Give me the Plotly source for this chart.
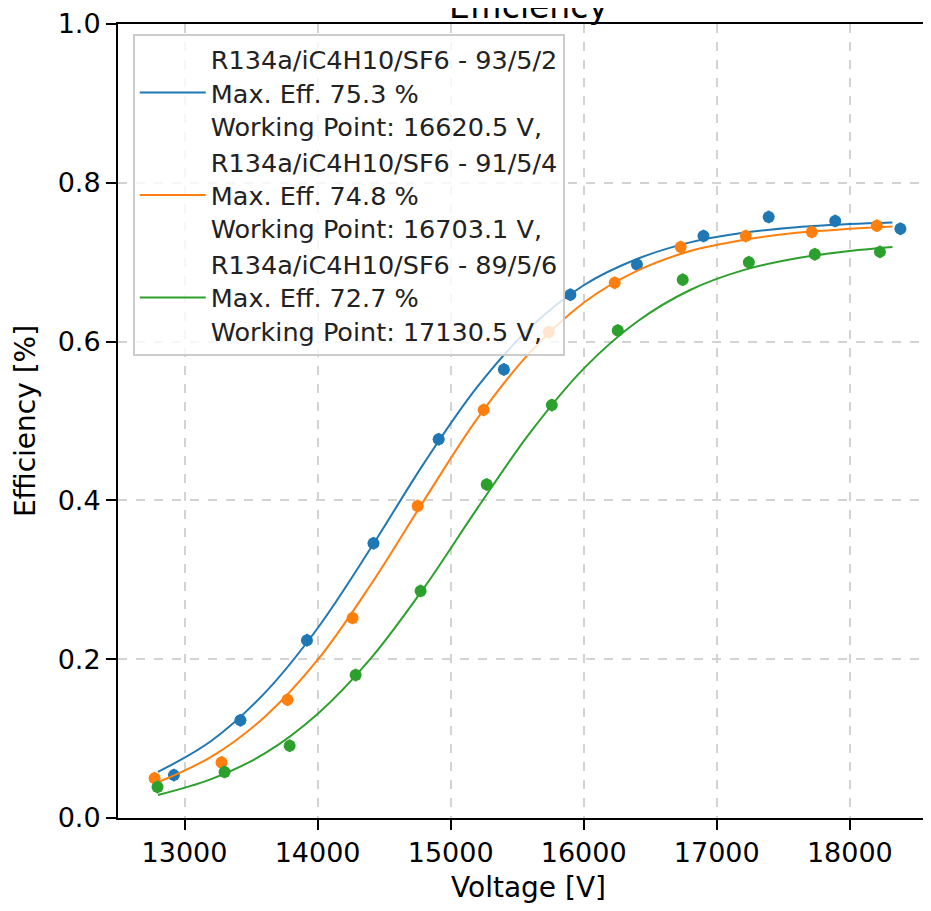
import plotly.graph_objects as go

# measured points (voltage [V], efficiency)
v_932 = [12920, 13420, 13920, 14420, 14910, 15400, 15900, 16400, 16900, 17390, 17890, 18380]
eff_932 = [0.054, 0.123, 0.224, 0.346, 0.477, 0.565, 0.659, 0.697, 0.733, 0.757, 0.752, 0.742]

v_914 = [12775, 13278, 13774, 14263, 14752, 15248, 15737, 16233, 16729, 17218, 17714, 18203]
eff_914 = [0.050, 0.070, 0.149, 0.252, 0.393, 0.514, 0.612, 0.674, 0.719, 0.733, 0.738, 0.746]

v_896 = [12797, 13301, 13790, 14286, 14774, 15271, 15760, 16256, 16744, 17241, 17737, 18226]
eff_896 = [0.039, 0.058, 0.091, 0.180, 0.286, 0.420, 0.520, 0.614, 0.678, 0.700, 0.710, 0.713]

err = [0.008] * 12

# fitted curves
v_fit = [12800, 13200, 13600, 14000, 14400, 14800, 15200, 15600, 16000, 16400, 16800, 17200, 17600, 18000, 18320]
fit_932 = [0.058, 0.097, 0.157, 0.239, 0.340, 0.447, 0.543, 0.618, 0.671, 0.704, 0.725, 0.737, 0.744, 0.748, 0.750]
fit_914 = [0.045, 0.077, 0.127, 0.199, 0.294, 0.400, 0.503, 0.587, 0.649, 0.689, 0.714, 0.728, 0.737, 0.742, 0.745]
fit_896 = [0.029, 0.049, 0.081, 0.131, 0.201, 0.290, 0.390, 0.486, 0.566, 0.625, 0.665, 0.690, 0.705, 0.714, 0.719]

names = [
    "R134a/iC4H10/SF6 - 93/5/2<br>Max. Eff. 75.3 %<br>Working Point: 16620.5 V,",
    "R134a/iC4H10/SF6 - 91/5/4<br>Max. Eff. 74.8 %<br>Working Point: 16703.1 V,",
    "R134a/iC4H10/SF6 - 89/5/6<br>Max. Eff. 72.7 %<br>Working Point: 17130.5 V,",
]
colors = ["#1f77b4", "#ff7f0e", "#2ca02c"]

fig = go.Figure()

series = [(v_932, eff_932, fit_932), (v_914, eff_914, fit_914), (v_896, eff_896, fit_896)]
for (vx, vy, fy), name, c in zip(series, names, colors):
    fig.add_trace(go.Scatter(
        x=vx, y=vy, mode="markers", showlegend=False,
        marker=dict(color=c, size=12),
        error_y=dict(type="data", array=err, color=c, thickness=2, width=0),
    ))
    fig.add_trace(go.Scatter(
        x=v_fit, y=fy, mode="lines", name=name,
        line=dict(color=c, width=2, shape="spline", smoothing=1.0),
    ))

fig.update_layout(
    width=931,
    height=911,
    # page body adds 8px, so shift everything up/left a bit
    margin=dict(l=110, r=0, t=12, b=101),
    plot_bgcolor="white",
    paper_bgcolor="white",
    font=dict(family="DejaVu Sans", size=27, color="black"),
    legend=dict(
        x=0.018, y=0.987, xanchor="left", yanchor="top",
        bgcolor="rgba(255,255,255,0.8)",
        bordercolor="#cccccc", borderwidth=2,
        font=dict(family="DejaVu Sans", size=25.5, color="#222222"),
        tracegroupgap=0,
        itemwidth=66,
    ),
    annotations=[dict(
        text="Efficiency", xref="paper", yref="paper", x=0.5, y=1,
        xanchor="center", yanchor="bottom", yshift=-4, showarrow=False,
        font=dict(family="DejaVu Sans", size=33, color="black"),
    )],
)

fig.update_xaxes(
    range=[12500, 18670],
    tick0=13000, dtick=1000, tickformat="d",
    title=dict(text="Voltage [V]", standoff=10, font=dict(size=28)),
    showline=True, linecolor="black", linewidth=2, mirror=True,
    ticks="outside", ticklen=10, tickwidth=2, tickcolor="black",
    showgrid=True, gridcolor="#d3d3d3", griddash="dash", gridwidth=1.5,
    zeroline=False, ticklabeloverflow="allow",
)
fig.update_yaxes(
    range=[0, 1],
    tick0=0, dtick=0.2, tickformat=".1f",
    title=dict(text="Efficiency [%]", standoff=14, font=dict(size=28)),
    showline=True, linecolor="black", linewidth=2, mirror=False,
    ticks="outside", ticklen=10, tickwidth=2, tickcolor="black",
    showgrid=True, gridcolor="#d3d3d3", griddash="dash", gridwidth=1.5,
    zeroline=False, ticklabeloverflow="allow",
)

fig.write_html("out.html")
